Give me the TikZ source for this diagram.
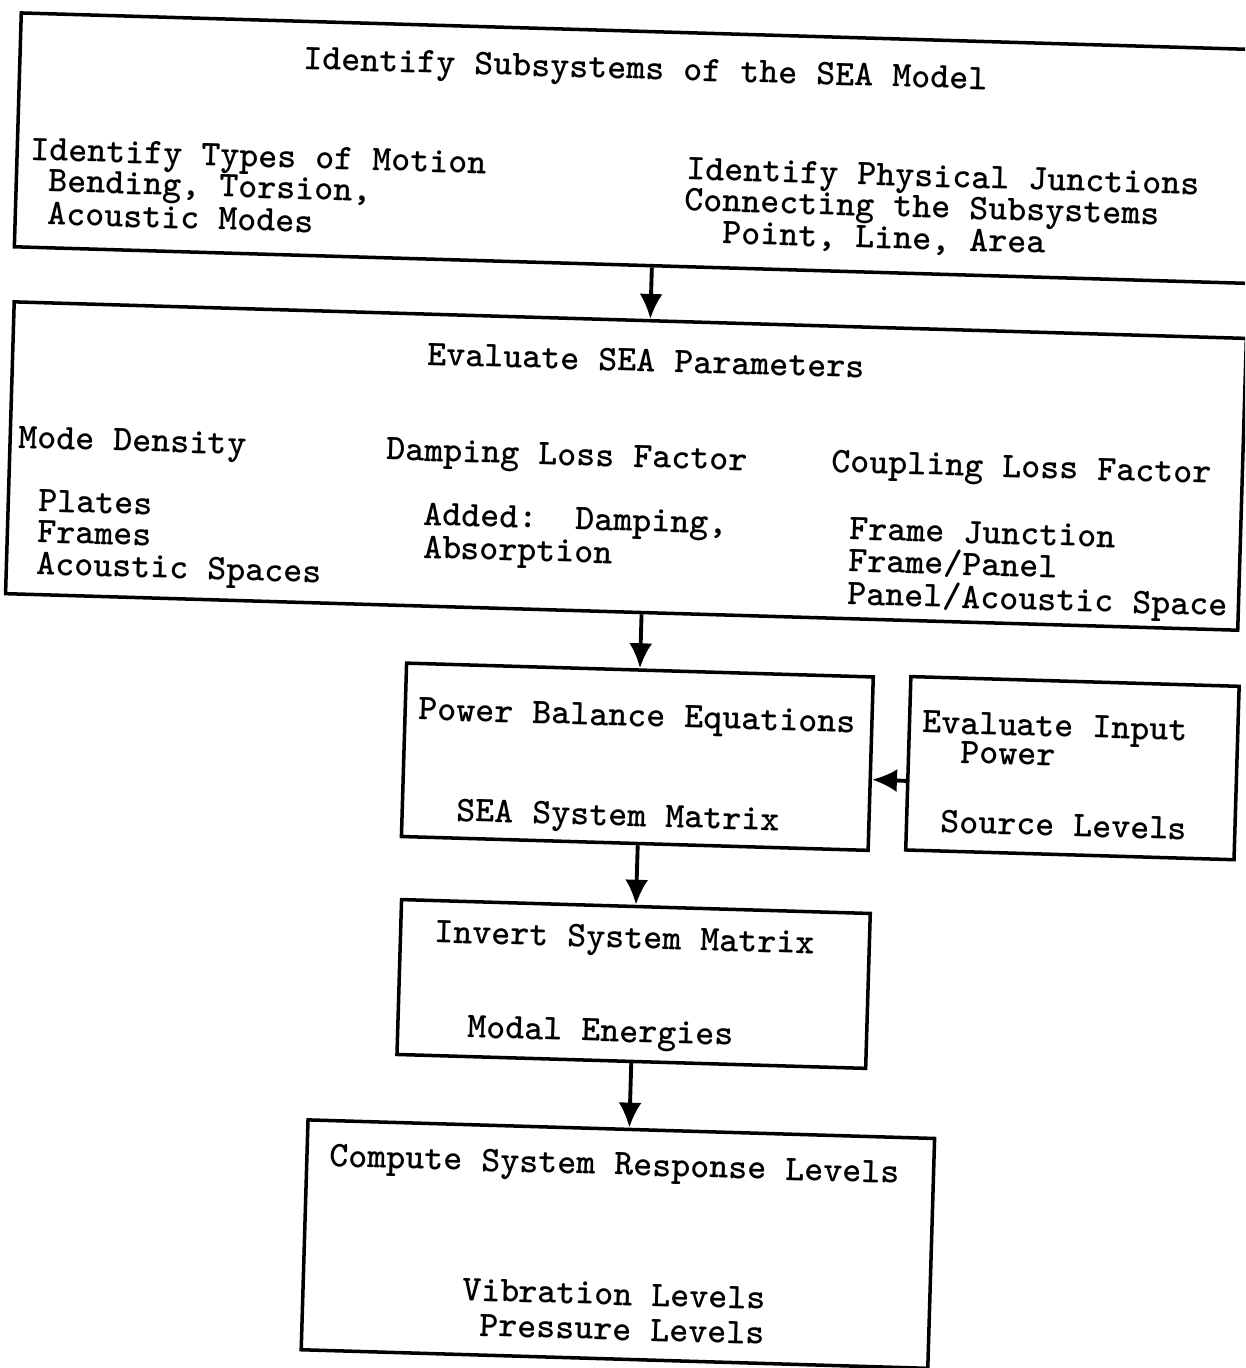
\documentclass[tikz,border=0pt]{standalone}
\usetikzlibrary{arrows.meta,positioning,calc}

\newcommand{\seafont}{\ttfamily\bfseries\fontsize{20.6}{22}\selectfont}

\tikzset{
  flowbox/.style={draw,line width=2pt,inner sep=0pt},
  txt/.style={anchor=base west,inner sep=0pt,text height=0.42cm,text depth=0.1cm,font=\seafont},
  flowarrow/.style={line width=2.2pt,-{Latex[length=0.5cm,width=0.46cm]}},
}

\begin{document}
\begin{tikzpicture}[x=0.02cm,y=-0.02cm]
\clip (0,0) rectangle (1245,1368);
\begin{scope}[rotate around={-1.7:(622,684)},transform shape]

% boxes
\node[flowbox,minimum width=25.77cm,minimum height=4.68cm] (subsys) at (645.75,148) {};
\node[flowbox,minimum width=24.66cm,minimum height=5.84cm] (params) at (619.5,466) {};
\node[flowbox,minimum width=9.34cm,minimum height=3.47cm] (balance) at (639.5,756.25) {};
\node[flowbox,minimum width=6.57cm,minimum height=3.47cm] (input) at (1074.75,754.75) {};
\node[flowbox,minimum width=9.38cm,minimum height=3.1cm] (invert) at (642.5,983.5) {};
\node[flowbox,minimum width=12.54cm,minimum height=4.6cm] (response) at (634.5,1244) {};

% subsystems
\node[txt] (subsysT) at (285,79) {Identify Subsystems of the SEA Model};
\node[txt] (motA) at (15,178) {Identify Types of Motion};
\node[txt] (motB) at (34,209) {Bending, Torsion,};
\node[txt] (motC) at (34,242) {Acoustic Modes};
\node[txt] (juncA) at (671,178) {Identify Physical Junctions};
\node[txt] (juncB) at (670,209) {Connecting the Subsystems};
\node[txt] (juncC) at (709,241) {Point, Line, Area};

% parameters
\node[txt] (paramsT) at (418,371) {Evaluate SEA Parameters};
\node[txt] (modeA) at (11,466) {Mode Density};
\node[txt] (modeB) at (33,529) {Plates};
\node[txt] (modeC) at (33,560) {Frames};
\node[txt] (modeD) at (33,592) {Acoustic Spaces};
\node[txt] (dampA) at (380,467) {Damping Loss Factor};
\node[txt] (dampB) at (419,531) {Added:\ \ Damping,};
\node[txt] (dampC) at (419,564) {Absorption};
\node[txt] (coupA) at (825,466) {Coupling Loss Factor};
\node[txt] (coupB) at (845,533) {Frame Junction};
\node[txt] (coupC) at (845,565) {Frame/Panel};
\node[txt] (coupD) at (845,598) {Panel/Acoustic Space};

% power balance, input power
\node[txt] (balA) at (419,726) {Power Balance Equations};
\node[txt] (balB) at (460,826) {SEA System Matrix};
\node[txt] (inA) at (923,724) {Evaluate Input};
\node[txt] (inB) at (962,753) {Power};
\node[txt] (inC) at (944,823) {Source Levels};

% inversion, response
\node[txt] (invA) at (442,948) {Invert System Matrix};
\node[txt] (invB) at (478,1042) {Modal Energies};
\node[txt] (respA) at (344,1175) {Compute System Response Levels};
\node[txt] (respB) at (480,1305) {Vibration Levels};
\node[txt] (respC) at (499,1340) {Pressure Levels};

% arrows
\draw[flowarrow] ($(subsys.south west)!(balance.north)!(subsys.south east)$)
  -- ($(params.north west)!(balance.north)!(params.north east)$);
\draw[flowarrow] ($(params.south west)!(balance.north)!(params.south east)$) -- (balance.north);
\draw[flowarrow] ($(balance.south west)!(invert.north)!(balance.south east)$) -- (invert.north);
\draw[flowarrow] (invert.south) -- ($(response.north west)!(invert.south)!(response.north east)$);
\draw[flowarrow] ($(input.north west)!0.6!(input.south west)$)
  -- ($(balance.north east)!0.59!(balance.south east)$);

\end{scope}
\end{tikzpicture}
\end{document}
